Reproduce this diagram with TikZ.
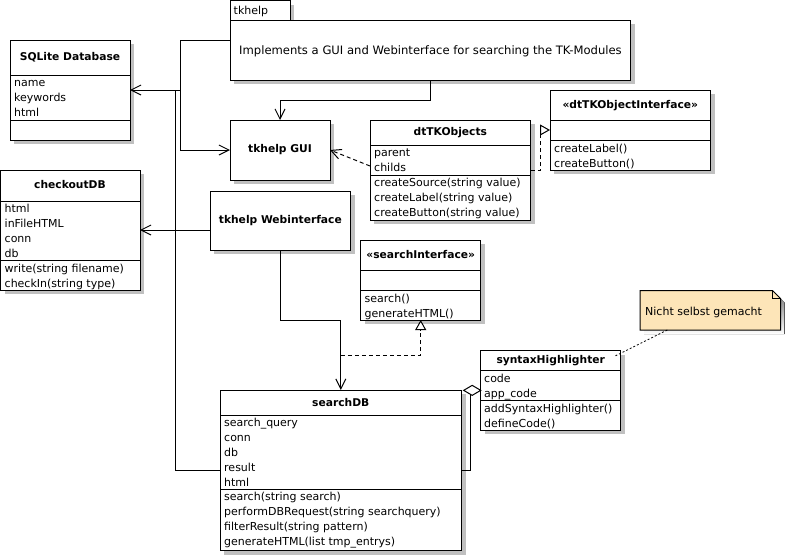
\documentclass[tikz,border=0pt]{standalone}
\usepackage{fontspec}
\setmainfont{DejaVu Sans}
\usetikzlibrary{arrows.meta,shadows}
\definecolor{notefill}{RGB}{253,229,184}
\definecolor{shade}{RGB}{192,192,192}
\tikzset{
  umlbox/.style={draw, fill=white, line width=1pt, anchor=north west, inner sep=0pt, outer sep=0pt,
    general shadow={fill=shade, shadow xshift=4pt, shadow yshift=-4pt}},
  sepline/.style={line width=1pt},
  ttlfont/.style={font=\fontsize{10.7}{13}\selectfont\bfseries},
  ttl/.style={ttlfont, inner sep=0pt, anchor=mid},
  txt/.style={font=\fontsize{11}{15}\selectfont, inner sep=0pt, anchor=base west},
  conn/.style={line width=1pt},
  assoc/.style={conn, -{Straight Barb[length=10pt,width=10pt]}},
  dep/.style={assoc, dash pattern=on 4pt off 3pt},
  real/.style={conn, dash pattern=on 4pt off 3pt, -{Triangle[length=10pt,width=11pt,fill=white]}},
  notelink/.style={line width=0.8pt, dash pattern=on 2pt off 2pt},
}
\newcommand{\umlclass}[7]{%
  \node[umlbox, minimum width=#4pt, minimum height=#5pt] (#1) at (#2,#3) {};
  \draw[sepline] (#2,#6) -- ++(#4,0);
  \draw[sepline] (#2,#7) -- ++(#4,0);
}
\begin{document}
\begin{tikzpicture}[x=1pt,y=-1pt]
\useasboundingbox[fill=white] (0,0) rectangle (785,555);

% package tkhelp
\node[umlbox, minimum width=60pt, minimum height=20pt] (tab) at (230,0.5) {};
\node[umlbox, minimum width=400.7pt, minimum height=60pt] (pkg) at (230,20) {};
\node[txt] (tabT) at (233.5,14.5) {tkhelp};
\node[txt, font=\fontsize{11.6}{15}\selectfont] (pkgT) at (239,54.5) {Implements a GUI and Webinterface for searching the TK-Modules};

% SQLite Database
\umlclass{sql}{10}{40}{120}{100}{75}{120}
\node[ttl] (sqlT) at (70,57.5) {SQLite Database};
\node[txt] (sqlA1) at (14,86.5) {name};
\node[txt] (sqlA2) at (14,101.5) {keywords};
\node[txt] (sqlA3) at (14,116.5) {html};

% checkoutDB
\umlclass{cdb}{0.5}{170}{139.5}{120}{201}{260}
\node[ttl] (cdbT) at (70,186) {checkoutDB};
\node[txt] (cdbA1) at (4.5,212) {html};
\node[txt] (cdbA2) at (4.5,227) {inFileHTML};
\node[txt] (cdbA3) at (4.5,242) {conn};
\node[txt] (cdbA4) at (4.5,257) {db};
\node[txt] (cdbO1) at (4.5,272) {write(string filename)};
\node[txt] (cdbO2) at (4.5,287) {checkIn(string type)};

% tkhelp GUI
\node[umlbox, ttlfont, minimum width=100pt, minimum height=60pt] (gui) at (230,120) {tkhelp GUI};

% tkhelp Webinterface
\node[umlbox, ttlfont, minimum width=140.7pt, minimum height=59pt] (wi) at (210,191) {tkhelp Webinterface};

% dtTKObjects
\umlclass{dto}{370}{120}{160.7}{100}{145}{175}
\node[ttl] (dtoT) at (450.3,132.3) {dtTKObjects};
\node[txt] (dtoA1) at (374,156.5) {parent};
\node[txt] (dtoA2) at (374,171.5) {childs};
\node[txt] (dtoO1) at (374,186.5) {createSource(string value)};
\node[txt] (dtoO2) at (374,201.5) {createLabel(string value)};
\node[txt] (dtoO3) at (374,216.5) {createButton(string value)};

% dtTKObjectInterface
\umlclass{dti}{550}{90}{160.7}{80}{120.7}{140.7}
\node[ttl] (dtiT) at (630.3,105.7) {«dtTKObjectInterface»};
\node[txt] (dtiO1) at (554,152) {createLabel()};
\node[txt] (dtiO2) at (554,167) {createButton()};

% searchInterface
\umlclass{si}{360.7}{240}{120}{80}{270.7}{290.7}
\node[ttl] (siT) at (420.7,256) {«searchInterface»};
\node[txt] (siO1) at (364.5,302) {search()};
\node[txt] (siO2) at (364.5,317) {generateHTML()};

% syntaxHighlighter
\umlclass{syn}{480.7}{350.7}{140}{79.3}{370.7}{400.7}
\node[ttl] (synT) at (550.7,360.7) {syntaxHighlighter};
\node[txt] (synA1) at (484,382) {code};
\node[txt] (synA2) at (484,397) {app\_code};
\node[txt] (synO1) at (484,412) {addSyntaxHighlighter()};
\node[txt] (synO2) at (484,427) {defineCode()};

% searchDB
\umlclass{sdb}{220}{390}{241.7}{160.7}{415}{489.3}
\node[ttl] (sdbT) at (340.8,403.3) {searchDB};
\node[txt] (sdbA1) at (224,426.5) {search\_query};
\node[txt] (sdbA2) at (224,441.5) {conn};
\node[txt] (sdbA3) at (224,456.5) {db};
\node[txt] (sdbA4) at (224,471.5) {result};
\node[txt] (sdbA5) at (224,486.5) {html};
\node[txt] (sdbO1) at (224,500.8) {search(string search)};
\node[txt] (sdbO2) at (224,515.8) {performDBRequest(string searchquery)};
\node[txt] (sdbO3) at (224,530.8) {filterResult(string pattern)};
\node[txt] (sdbO4) at (224,545.8) {generateHTML(list tmp\_entrys)};

% note
\node[draw=none, inner sep=0pt, outer sep=0pt, anchor=north west, minimum width=140.7pt, minimum height=39.3pt] (note) at (640,290.7) {};
\fill[shade] (644,294.7) -- (776.7,294.7) -- (784.7,302.7) -- (784.7,334) -- (644,334) -- cycle;
\draw[line width=1pt, fill=notefill] (640,290.7) -- (772.7,290.7) -- (780.7,298.7) -- (780.7,330) -- (640,330) -- cycle;
\draw[line width=1pt] (772.7,290.7) -- (772.7,298.7) -- (780.7,298.7);
\node[txt] (noteT) at (645,315) {Nicht selbst gemacht};

% connectors
\draw[assoc] ([yshift=10pt]pkg.west) -| (180,150) -- (gui.west);
\draw[assoc] (180,90) -- (sql.east);
\draw[conn] (sdb.west) -| (175,90);
\draw[assoc] (pkg.south) -- ++(0,20) -| (gui.north);
\draw[assoc] (wi.west |- cdb.east) -- (cdb.east);
\draw[assoc] (wi.south) -- ++(0,70) -| (sdb.north);
\coordinate (rj) at (sdb.north |- 0,355);
\draw[real] (rj) -| (si.south);
\draw[dep] ([yshift=4pt]dto.west) -- (gui.east);
\draw[real] (dto.east) -- ++(10,0) |- (dti.west);
\draw[conn] (sdb.east) -| ([xshift=-10.7pt,yshift=-2pt]syn.west);
\draw[conn, fill=white] (syn.west) -- ++(-8.5,-5) -- ++(-8.5,5) -- ++(8.5,5) -- cycle;
\draw[notelink] ([xshift=-43pt]note.south) -- ([xshift=-7pt,yshift=-6pt]syn.north east);
\end{tikzpicture}
\end{document}
